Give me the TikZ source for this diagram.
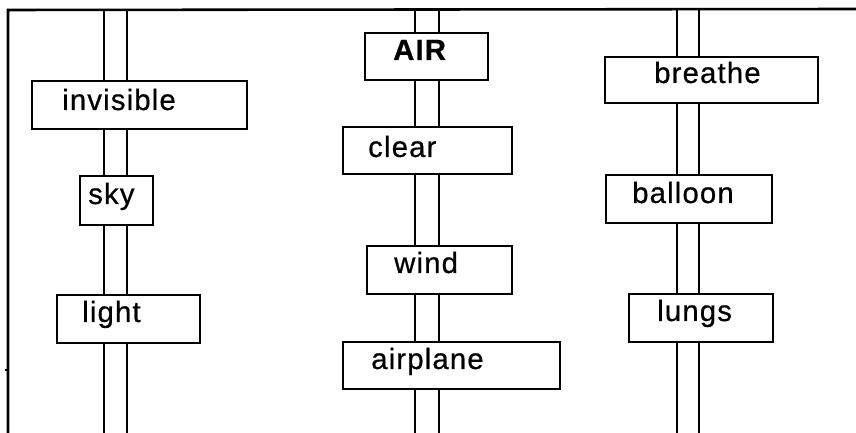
\documentclass[tikz,border=0pt]{standalone}
\usepackage{fontspec}
\setmainfont{Liberation Sans}[LetterSpace=4,FakeBold=0.6]
\usetikzlibrary{fit}
\begin{document}
\begin{tikzpicture}[x=0.03cm,y=-0.03cm,
  box/.style={draw=black,line width=2pt,inner sep=0pt,outer sep=0pt,fill=white},
  rail/.style={draw=black,line width=1.7pt},
  frame/.style={draw=black,line width=2.2pt},
  lbl/.style={anchor=base west,inner sep=0pt,font=\fontsize{25}{29}\selectfont}]
\useasboundingbox (0,0) rectangle (856,433);
% frame
\coordinate (tl) at (8,10);
\coordinate (tr) at (856,9);
\coordinate (bl) at (8,433);
\draw[frame] (tr) -- (tl) -- (bl);
\coordinate (tick) at (5,370);
\draw[line width=1pt] (tick) -- ++(3,0);
% rail columns
\coordinate (a1) at (104,10); \coordinate (a2) at (127,10);
\coordinate (b1) at (415,10); \coordinate (b2) at (439,10);
\coordinate (c1) at (677,9);  \coordinate (c2) at (699,9);
\coordinate (bot) at (0,433);
% boxes
\node[box,fit={(32,81) (247,129)}] (inv) {};
\node[box,fit={(80,176) (153,225)}] (sky) {};
\node[box,fit={(57,295) (200,343)}] (light) {};
\node[box,fit={(365,33) (488,80)}] (air) {};
\node[box,fit={(343,127) (512,174)}] (clear) {};
\node[box,fit={(367,246) (512,294)}] (wind) {};
\node[box,fit={(343,342) (560,389)}] (plane) {};
\node[box,fit={(605,57) (818,103)}] (breathe) {};
\node[box,fit={(606,175) (772,223)}] (balloon) {};
\node[box,fit={(629,294) (773,342)}] (lungs) {};
% labels
\node[lbl] (tinv) at (62,110) {invisible};
\node[lbl] (tsky) at (88,204) {sky};
\node[lbl] (tlight) at (82,322) {light};
\node[lbl,font=\fontsize{25}{29}\selectfont\bfseries] (tair) at (393,60) {AIR};
\node[lbl] (tclear) at (368,157) {clear};
\node[lbl] (twind) at (394,273) {wind};
\node[lbl] (tplane) at (371,369) {airplane};
\node[lbl] (tbreathe) at (654,83) {breathe};
\node[lbl] (tballoon) at (632,203) {balloon};
\node[lbl] (tlungs) at (657,321) {lungs};
% left rails
\foreach \c in {a1,a2}{
  \draw[rail] (\c) -- (\c |- inv.north);
  \draw[rail] (\c |- inv.south) -- (\c |- sky.north);
  \draw[rail] (\c |- sky.south) -- (\c |- light.north);
  \draw[rail] (\c |- light.south) -- (\c |- bot);
}
% middle rails
\foreach \c in {b1,b2}{
  \draw[rail] (\c) -- (\c |- air.north);
  \draw[rail] (\c |- air.south) -- (\c |- clear.north);
  \draw[rail] (\c |- clear.south) -- (\c |- wind.north);
  \draw[rail] (\c |- wind.south) -- (\c |- plane.north);
  \draw[rail] (\c |- plane.south) -- (\c |- bot);
}
% right rails
\foreach \c in {c1,c2}{
  \draw[rail] (\c) -- (\c |- breathe.north);
  \draw[rail] (\c |- breathe.south) -- (\c |- balloon.north);
  \draw[rail] (\c |- balloon.south) -- (\c |- lungs.north);
  \draw[rail] (\c |- lungs.south) -- (\c |- bot);
}
\end{tikzpicture}
\end{document}
